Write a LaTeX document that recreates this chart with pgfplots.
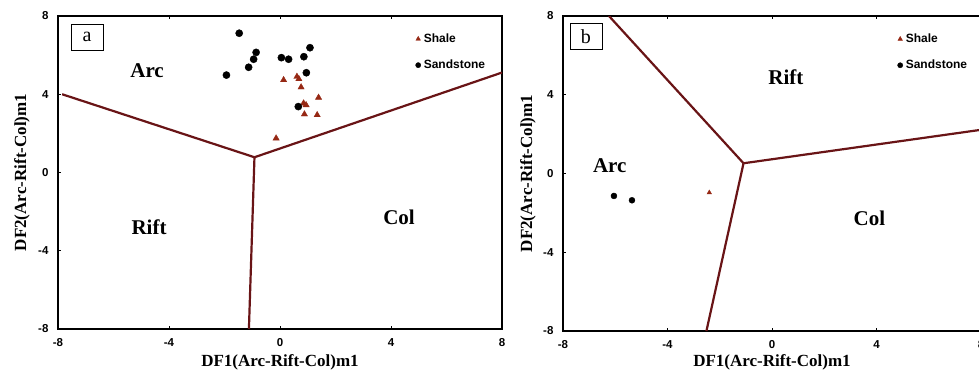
\documentclass[border=0pt]{standalone}
\usepackage{fontspec}
\setmainfont{Liberation Serif}
\newfontfamily\sansf{Liberation Sans}
\usepackage{pgfplots}
\pgfplotsset{compat=1.18}
\definecolor{linec}{RGB}{105,20,22}
\definecolor{shalec}{RGB}{150,40,20}
\tikzset{
 reg/.style={font=\bfseries\fontsize{21}{24}\selectfont},
 boxl/.style={draw, line width=0.8pt, minimum width=32pt, minimum height=26pt, inner sep=0pt, font=\fontsize{20}{22}\selectfont},
}
\pgfplotsset{
 panel/.style={
  scale only axis, xmin=-8,xmax=8,ymin=-8,ymax=8,
  xtick={-8,-4,0,4,8}, ytick={-8,-4,0,4,8},
  axis line style={line width=1.6pt, black},
  tick style={black, line width=0.8pt}, major tick length=3pt, tick align=inside,
  xtick pos=both, ytick pos=left,
  xticklabel style={font=\sansf\bfseries\fontsize{11.5}{13}\selectfont, yshift=-6pt},
  yticklabel style={font=\sansf\bfseries\fontsize{11.5}{13}\selectfont, xshift=-6pt},
  /pgf/number format/assume math mode=true,
  xlabel={DF1(Arc-Rift-Col)m1}, ylabel={DF2(Arc-Rift-Col)m1},
  label style={font=\bfseries\fontsize{17}{20}\selectfont},
  legend cell align=left,
  legend style={draw=none, fill=none, font=\sansf\bfseries\fontsize{12}{14}\selectfont, anchor=north west, row sep=12pt, inner sep=0pt,
    /tikz/every odd column/.append style={column sep=1pt}},
  legend image code/.code={\draw[##1, mark size=2.6pt] plot coordinates {(0pt,0pt)};},
 },
}
\begin{document}
\begin{tikzpicture}
\useasboundingbox (0,0) rectangle (979pt,383pt);
% Panel a
\begin{axis}[panel, at={(58pt,54pt)}, anchor=south west, width=444pt, height=313pt,
  xlabel style={at={(axis description cs:0.5,-0.105)}, anchor=center},
  ylabel style={at={(axis description cs:-0.081,0.5)}, anchor=center},
  legend style={at={(axis description cs:0.805,0.95)}}]
\addplot[only marks, mark=triangle*, mark size=3.6pt, color=shalec] coordinates {
(0.13,4.73) (0.61,4.90) (0.68,4.78) (0.76,4.36) (0.85,3.54) (0.94,3.45)
(0.88,2.98) (1.39,3.83) (1.34,2.94) (-0.14,1.75)};
\addlegendentry{Shale}
\addplot[only marks, mark=*, mark size=3.6pt, color=black] coordinates {
(-1.47,7.12) (-1.93,4.98) (-1.13,5.38) (-0.95,5.79) (-0.86,6.14) (0.05,5.87)
(0.31,5.79) (0.86,5.92) (1.08,6.38) (0.95,5.10) (0.66,3.37)};
\addlegendentry{Sandstone}
\addplot[draw=linec, line width=2.2pt, forget plot] coordinates {(-7.85,4.0) (-0.92,0.78)};
\addplot[draw=linec, line width=2.2pt, forget plot] coordinates {(-0.92,0.78) (8,5.11)};
\addplot[draw=linec, line width=2.2pt, forget plot] coordinates {(-0.92,0.78) (-1.12,-8)};
\node[reg] at (axis cs:-4.79,5.19) {Arc};
\node[reg] at (axis cs:-4.72,-2.79) {Rift};
\node[reg] at (axis cs:4.29,-2.28) {Col};
\node[boxl] at (axis cs:-6.95,6.93) {a};
\end{axis}
% Panel b
\begin{axis}[panel, at={(563pt,52pt)}, anchor=south west, width=418pt, height=315pt,
  xlabel style={at={(axis description cs:0.5,-0.098)}, anchor=center},
  ylabel style={at={(axis description cs:-0.084,0.5)}, anchor=center},
  legend style={at={(axis description cs:0.80,0.95)}}]
\addplot[only marks, mark=triangle*, mark size=2.6pt, color=shalec] coordinates {(-2.40,-0.97)};
\addlegendentry{Shale}
\addplot[only marks, mark=*, mark size=3pt, color=black] coordinates {(-6.05,-1.14) (-5.36,-1.36)};
\addlegendentry{Sandstone}
\addplot[draw=linec, line width=2.2pt, forget plot] coordinates {(-6.24,8) (-1.09,0.52)};
\addplot[draw=linec, line width=2.2pt, forget plot] coordinates {(-1.09,0.52) (8,2.22)};
\addplot[draw=linec, line width=2.2pt, forget plot] coordinates {(-1.09,0.52) (-2.51,-8)};
\node[reg] at (axis cs:0.53,4.90) {Rift};
\node[reg] at (axis cs:-6.21,0.38) {Arc};
\node[reg] at (axis cs:3.73,-2.26) {Col};
\node[boxl] at (axis cs:-7.12,6.96) {b};
\end{axis}
\end{tikzpicture}
\end{document}
